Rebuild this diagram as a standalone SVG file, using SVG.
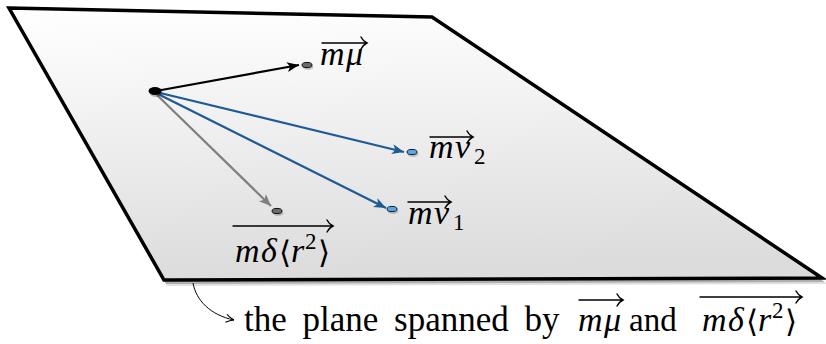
<svg xmlns="http://www.w3.org/2000/svg" width="826" height="344" viewBox="0 0 826 344">
<defs>
<linearGradient id="planeGrad" x1="0" y1="0" x2="0.1" y2="1">
<stop offset="0" stop-color="#ffffff"/>
<stop offset="0.25" stop-color="#f7f7f7"/>
<stop offset="1" stop-color="#dcdcdd"/>
</linearGradient>
<marker id="headBlack" markerUnits="userSpaceOnUse" markerWidth="14" markerHeight="12" refX="12" refY="5" orient="auto">
<path d="M0,0 L12,5 L0,10 L3,5 z" fill="#000"/>
</marker>
<marker id="headBlue" markerUnits="userSpaceOnUse" markerWidth="14" markerHeight="12" refX="12" refY="5" orient="auto">
<path d="M0,0 L12,5 L0,10 L3,5 z" fill="#1e5a96"/>
</marker>
<marker id="headGray" markerUnits="userSpaceOnUse" markerWidth="14" markerHeight="12" refX="12" refY="5" orient="auto">
<path d="M0,0 L12,5 L0,10 L3,5 z" fill="#7f7f7f"/>
</marker>
<marker id="headThin" markerUnits="userSpaceOnUse" markerWidth="12" markerHeight="12" refX="9" refY="5" orient="auto">
<path d="M1,1 Q5,4 9,5 Q5,6 1,9" fill="none" stroke="#000" stroke-width="1"/>
</marker>
</defs>

<g id="plane">
<polygon points="12,14 435,23 827,284 167,286" fill="#000" fill-opacity="0.12"/>
<polygon points="11,12 434,21 825,282 166,284" fill="#000" fill-opacity="0.22"/>
<polygon points="9,8 432,17 822,278 164,280" fill="url(#planeGrad)" stroke="#000" stroke-width="3.5" stroke-linejoin="miter"/>
</g>

<g id="connectors" fill="none" stroke-width="2.2">
<line x1="156" y1="91" x2="299" y2="65" stroke="#000" marker-end="url(#headBlack)"/>
<line x1="156" y1="92" x2="404" y2="152" stroke="#1e5a96" marker-end="url(#headBlue)"/>
<line x1="156" y1="93" x2="386" y2="208" stroke="#1e5a96" marker-end="url(#headBlue)"/>
<line x1="157" y1="95" x2="271" y2="206" stroke="#7f7f7f" marker-end="url(#headGray)"/>
<path d="M193,283 C196,300 210,315 234,320" stroke="#000" stroke-width="1" marker-end="url(#headThin)"/>
</g>

<g id="origin">
<ellipse cx="156" cy="93" rx="6.5" ry="4" fill="#000" fill-opacity="0.25"/>
<ellipse cx="155" cy="91" rx="6.5" ry="4" fill="#000"/>
</g>

<g id="node-mu">
<ellipse cx="308" cy="67" rx="5.5" ry="3" fill="#000" fill-opacity="0.2"/>
<ellipse cx="307" cy="65" rx="5" ry="2.6" fill="#6b6b6b" stroke="#111" stroke-width="1"/>
<text x="320" y="65" font-family="Liberation Serif" font-style="italic" font-size="34">m</text>
<text x="346" y="65" font-family="Liberation Serif" font-style="italic" font-size="34">μ</text>
<path d="M322,43 H367 M361,37 Q363,41 367,43 Q363,45 361,49" fill="none" stroke="#000" stroke-width="1.4" stroke-linecap="round"/>
</g>

<g id="node-nu2">
<ellipse cx="413" cy="154" rx="5.5" ry="3" fill="#000" fill-opacity="0.2"/>
<ellipse cx="412" cy="152" rx="5" ry="2.6" fill="#5ba6e6" stroke="#123" stroke-width="1"/>
<text x="429" y="158" font-family="Liberation Serif" font-style="italic" font-size="34">m</text>
<text x="455" y="158" font-family="Liberation Serif" font-style="italic" font-size="34">ν</text>
<text x="474" y="164" font-family="Liberation Serif" font-size="23">2</text>
<path d="M430,137 H473 M467,131 Q469,135 473,137 Q469,139 467,143" fill="none" stroke="#000" stroke-width="1.4" stroke-linecap="round"/>
</g>

<g id="node-nu1">
<ellipse cx="393" cy="211" rx="5.5" ry="3" fill="#000" fill-opacity="0.2"/>
<ellipse cx="392" cy="209" rx="5" ry="2.6" fill="#5ba6e6" stroke="#123" stroke-width="1"/>
<text x="408" y="224" font-family="Liberation Serif" font-style="italic" font-size="34">m</text>
<text x="434" y="224" font-family="Liberation Serif" font-style="italic" font-size="34">ν</text>
<text x="453" y="230" font-family="Liberation Serif" font-size="23">1</text>
<path d="M408,202 H451 M445,196 Q447,200 451,202 Q447,204 445,208" fill="none" stroke="#000" stroke-width="1.4" stroke-linecap="round"/>
</g>

<g id="node-delta">
<ellipse cx="278" cy="213" rx="5.5" ry="3" fill="#000" fill-opacity="0.2"/>
<ellipse cx="277" cy="211" rx="5" ry="2.6" fill="#6b6b6b" stroke="#111" stroke-width="1"/>
<text x="235" y="262" font-family="Liberation Serif" font-style="italic" font-size="34">m</text>
<text x="261" y="262" font-family="Liberation Serif" font-style="italic" font-size="34">δ</text>
<text x="279" y="263" font-family="Liberation Serif" font-size="31">⟨</text>
<text x="291" y="262" font-family="Liberation Serif" font-style="italic" font-size="34">r</text>
<text x="305" y="249" font-family="Liberation Serif" font-size="23">2</text>
<text x="318" y="263" font-family="Liberation Serif" font-size="31">⟩</text>
<path d="M233,226 H333 M327,220 Q329,224 333,226 Q329,228 327,232" fill="none" stroke="#000" stroke-width="1.4" stroke-linecap="round"/>
</g>

<g id="caption">
<text x="244" y="331" font-family="Liberation Serif" font-size="35" word-spacing="7">the plane spanned by</text>
<text x="578" y="331" font-family="Liberation Serif" font-style="italic" font-size="34">m</text>
<text x="604" y="331" font-family="Liberation Serif" font-style="italic" font-size="34">μ</text>
<path d="M579,300 H623 M617,294 Q619,298 623,300 Q619,302 617,306" fill="none" stroke="#000" stroke-width="1.4" stroke-linecap="round"/>
<text x="629" y="331" font-family="Liberation Serif" font-size="33">and</text>
<text x="702" y="331" font-family="Liberation Serif" font-style="italic" font-size="34">m</text>
<text x="728" y="331" font-family="Liberation Serif" font-style="italic" font-size="34">δ</text>
<text x="746" y="332" font-family="Liberation Serif" font-size="31">⟨</text>
<text x="758" y="331" font-family="Liberation Serif" font-style="italic" font-size="34">r</text>
<text x="772" y="318" font-family="Liberation Serif" font-size="23">2</text>
<text x="785" y="332" font-family="Liberation Serif" font-size="31">⟩</text>
<path d="M700,297 H802 M796,291 Q798,295 802,297 Q798,299 796,303" fill="none" stroke="#000" stroke-width="1.4" stroke-linecap="round"/>
</g>
</svg>
